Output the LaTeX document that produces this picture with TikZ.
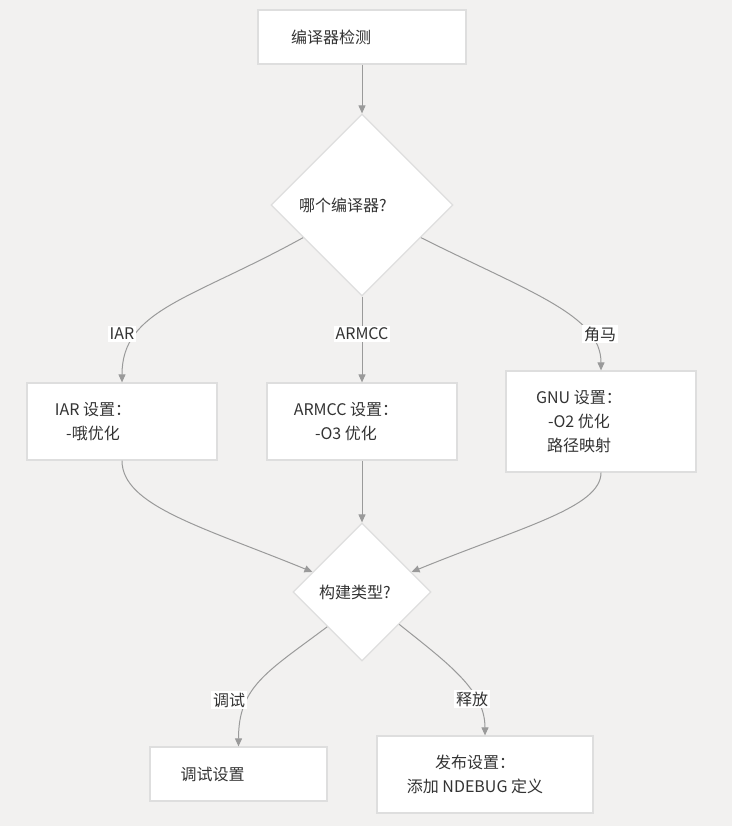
\documentclass[tikz,border=0pt]{standalone}
\usepackage{fontspec}
\newfontfamily\cjk{Noto Sans CJK SC}
\usetikzlibrary{shapes.geometric,arrows.meta}
\definecolor{bgc}{HTML}{F2F1F0}
\definecolor{edgec}{HTML}{9A9A9A}
\definecolor{boxc}{HTML}{DEDEDE}
\definecolor{txtc}{HTML}{333333}

\begin{document}
\begin{tikzpicture}[x=1pt, y=1pt]
		\tikzstyle{Box}		= [rectangle, draw=boxc, line width=1.2pt, fill=white, inner sep=0pt]
		\tikzstyle{Ask}		= [diamond, draw=boxc, line width=1.2pt, fill=white, inner sep=0pt]
		\tikzstyle{Txt}		= [font=\cjk\fontsize{16}{24}\selectfont, align=center, text=txtc]
		\tikzstyle{Lbl}		= [fill=white, inner sep=2pt, font=\cjk\fontsize{16}{24}\selectfont, text=txtc]
		\tikzstyle{Flow}	= [edgec, line width=1pt, -{Triangle[length=8pt, width=7pt]}]

		\fill[bgc] (0,0) rectangle (732,826);
		\useasboundingbox (0,0) rectangle (732,826);

		\node (start) at (362, 789) [Box, minimum width=208pt, minimum height=54pt, label={[Txt, xshift=-31pt]center:编译器检测}]{};
		\node (ask) at (362, 621) [Ask, minimum width=182pt, minimum height=182pt, label={[Txt, xshift=-19pt]center:哪个编译器?}]{};
		\node (iar) at (122, 404.5) [Box, minimum width=190pt, minimum height=77pt, label={[Txt, xshift=-29pt]center:{IAR 设置：\\-哦优化}}]{};
		\node (armcc) at (362, 404.5) [Box, minimum width=190pt, minimum height=77pt, label={[Txt, xshift=-16pt]center:{ARMCC 设置：\\-O3 优化}}]{};
		\node (gnu) at (601, 404.5) [Box, minimum width=190pt, minimum height=101pt, label={[Txt, xshift=-22pt]center:{GNU 设置：\\-O2 优化\\路径映射}}]{};
		\node (build) at (362, 234) [Ask, minimum width=138pt, minimum height=138pt, label={[Txt, xshift=-7pt]center:构建类型?}]{};
		\node (debug) at (238.5, 52) [Box, minimum width=177pt, minimum height=54pt, label={[Txt, xshift=-26pt]center:调试设置}]{};
		\node (release) at (485, 51.5) [Box, minimum width=216pt, minimum height=77pt, label={[Txt, xshift=-10pt]center:{发布设置：\\添加 NDEBUG 定义}}]{};

		\draw [Flow] (start) to (ask);
		\draw [Flow] (ask.209) .. controls +(-112,-62) and +(0,73) .. (iar.north);
		\draw [Flow] (ask) to (armcc);
		\draw [Flow] (ask.331) .. controls +(110,-55) and +(0,55) .. (gnu.north);
		\draw [Flow] (iar.south) .. controls +(0,-45) and +(-110,45) .. (build.158);
		\draw [Flow] (armcc) to (build);
		\draw [Flow] (gnu.south) .. controls +(0,-35) and +(110,45) .. (build.22);
		\draw [Flow] (build.225) .. controls +(-60,-45) and +(0,60) .. (debug.north);
		\draw [Flow] (build.319) .. controls +(50,-40) and +(0,45) .. (release.north);

		\node (l1) at (122, 492) [Lbl]{IAR};
		\node (l2) at (362, 492) [Lbl]{ARMCC};
		\node (l3) at (600, 492) [Lbl]{角马};
		\node (l4) at (229, 126) [Lbl]{调试};
		\node (l5) at (472, 127) [Lbl]{释放};
	\end{tikzpicture}
\end{document}
